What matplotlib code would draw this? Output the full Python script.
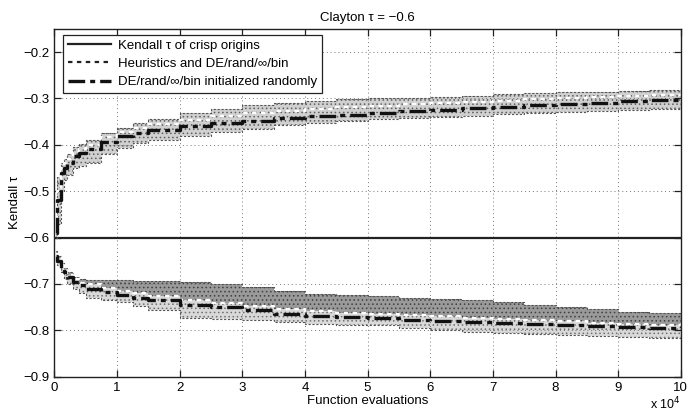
import matplotlib
matplotlib.use("Agg")
import matplotlib.pyplot as plt

plt.rcParams['font.family'] = ['Liberation Sans', 'DejaVu Sans']
plt.rcParams['hatch.linewidth'] = 0.6

# x in units of 1e4 function evaluations
x = [0.02, 0.05, 0.1, 0.15, 0.2, 0.3, 0.4, 0.5, 0.75, 1, 1.25, 1.5, 2, 2.5, 3, 3.5, 4, 4.5, 5,
     5.5, 6, 6.5, 7, 7.5, 8, 8.5, 9, 9.5, 10]

crisp_tau = -0.6

up_top = [-0.57, -0.47, -0.44, -0.43, -0.42, -0.405, -0.398, -0.39, -0.375, -0.364, -0.353, -0.345,
          -0.332, -0.322, -0.315, -0.31, -0.305, -0.302, -0.30,
          -0.298, -0.296, -0.294, -0.291, -0.289, -0.287, -0.285, -0.283, -0.281, -0.279]
up_heur = [-0.58, -0.50, -0.45, -0.44, -0.43, -0.415, -0.408, -0.40, -0.384, -0.372, -0.363, -0.356,
           -0.346, -0.338, -0.332, -0.327, -0.322, -0.318, -0.316,
           -0.313, -0.31, -0.307, -0.305, -0.302, -0.30, -0.297, -0.295, -0.292, -0.29]
up_rand = [-0.59, -0.52, -0.46, -0.45, -0.44, -0.425, -0.418, -0.41, -0.393, -0.38, -0.374, -0.368,
           -0.36, -0.354, -0.348, -0.343, -0.338, -0.335, -0.332,
           -0.328, -0.325, -0.321, -0.318, -0.315, -0.312, -0.309, -0.306, -0.303, -0.30]
up_bot = [-0.60, -0.57, -0.50, -0.475, -0.465, -0.45, -0.445, -0.44, -0.42, -0.407, -0.397, -0.39,
          -0.38, -0.372, -0.365, -0.358, -0.352, -0.348, -0.345,
          -0.342, -0.339, -0.337, -0.334, -0.331, -0.329, -0.327, -0.325, -0.323, -0.321]

lo_top = [-0.63, -0.64, -0.655, -0.665, -0.675, -0.685, -0.69, -0.692, -0.692, -0.692, -0.693, -0.694,
          -0.696, -0.70, -0.707, -0.716, -0.722, -0.724, -0.726,
          -0.73, -0.733, -0.735, -0.74, -0.745, -0.75, -0.755, -0.76, -0.763, -0.763]
lo_heur = [-0.635, -0.645, -0.66, -0.67, -0.68, -0.69, -0.697, -0.70, -0.708, -0.715, -0.72, -0.725,
           -0.735, -0.742, -0.748, -0.754, -0.758, -0.762, -0.765,
           -0.768, -0.77, -0.773, -0.776, -0.778, -0.781, -0.784, -0.786, -0.788, -0.785]
lo_rand = [-0.64, -0.65, -0.665, -0.675, -0.685, -0.695, -0.703, -0.71, -0.718, -0.724, -0.73, -0.735,
           -0.745, -0.75, -0.756, -0.764, -0.77, -0.772, -0.774,
           -0.778, -0.78, -0.782, -0.784, -0.786, -0.788, -0.79, -0.792, -0.794, -0.79]
lo_bot = [-0.65, -0.66, -0.675, -0.69, -0.70, -0.71, -0.72, -0.73, -0.735, -0.739, -0.748, -0.757,
          -0.774, -0.776, -0.778, -0.782, -0.786, -0.788, -0.789,
          -0.796, -0.80, -0.803, -0.806, -0.808, -0.81, -0.812, -0.814, -0.816, -0.817]

xticks = [0, 1, 2, 3, 4, 5, 6, 7, 8, 9, 10]
yticks = [-0.9, -0.8, -0.7, -0.6, -0.5, -0.4, -0.3, -0.2]
ytick_labels = ['\u22120.9', '\u22120.8', '\u22120.7', '\u22120.6', '\u22120.5', '\u22120.4', '\u22120.3', '\u22120.2']

fig = plt.figure(figsize=(6.87, 4.13), dpi=100)
ax = fig.add_axes([0.079, 0.088, 0.912, 0.842])

# bands (stippled look)
ax.fill_between(x, up_top, up_bot, step='post', facecolor='#d0d0d0', edgecolor='#606060',
                hatch='....', linewidth=0)
ax.fill_between(x, lo_top, lo_heur, step='post', facecolor='#9a9a9a', edgecolor='#404040',
                hatch='....', linewidth=0)
ax.fill_between(x, lo_heur, lo_bot, step='post', facecolor='#d9d9d9', edgecolor='#707070',
                hatch='....', linewidth=0)

ax.axhline(crisp_tau, color='#222222', lw=1.6)

for band in (up_top, up_bot, lo_top, lo_bot):
    ax.step(x, band, where='post', color='#555555', lw=0.8, linestyle=(0, (2, 1.5)))

ax.step(x, up_heur, where='post', color='white', lw=1.6, linestyle=(0, (2, 2)))
ax.step(x, lo_heur, where='post', color='white', lw=1.6, linestyle=(0, (2, 2)))
ax.step(x, up_rand, where='post', color='#111111', lw=2.4, linestyle=(0, (5, 1.5, 1.5, 1.5)))
ax.step(x, lo_rand, where='post', color='#111111', lw=2.4, linestyle=(0, (5, 1.5, 1.5, 1.5)))

# legend handles
h1, = ax.plot([], [], color='#222222', lw=1.6, label='Kendall \u03c4 of crisp origins')
h2, = ax.plot([], [], color='#222222', lw=1.6, linestyle=(0, (2, 2)), label='Heuristics and DE/rand/\u221e/bin')
h3, = ax.plot([], [], color='#111111', lw=2.4, linestyle=(0, (5, 1.5, 1.5, 1.5)),
              label='DE/rand/\u221e/bin initialized randomly')
leg = ax.legend(handles=[h1, h2, h3], loc='upper left', bbox_to_anchor=(0.01, 0.99), fontsize=9.5,
                frameon=True, fancybox=False, edgecolor='#222222', framealpha=1,
                handlelength=3.3, handletextpad=0.5, borderpad=0.35, labelspacing=0.45, borderaxespad=0.2)
leg.get_frame().set_linewidth(0.9)

ax.set_xlim(0, 10)
ax.set_ylim(-0.9, -0.15)
ax.set_xticks(xticks)
ax.set_xticklabels([str(t) for t in xticks])
ax.set_yticks(yticks)
ax.set_yticklabels(ytick_labels)
ax.tick_params(direction='in', top=True, right=True, length=5, labelsize=9.5, width=0.9, color='#222222')
ax.grid(True, linestyle=(0, (1, 3)), color='#777777', lw=0.7)
for s in ax.spines.values():
    s.set_linewidth(1.0)
    s.set_color('#222222')

ax.set_title('Clayton \u03c4 = \u22120.6', fontsize=9.5, pad=6)
ax.set_xlabel('Function evaluations', fontsize=9.5, labelpad=1)
ax.set_ylabel('Kendall \u03c4', fontsize=9.5, labelpad=2)
ax.text(1.0, -0.08, r'x 10$^4$', transform=ax.transAxes, ha='right', va='center', fontsize=9)

fig.savefig('out.png', dpi=100)
